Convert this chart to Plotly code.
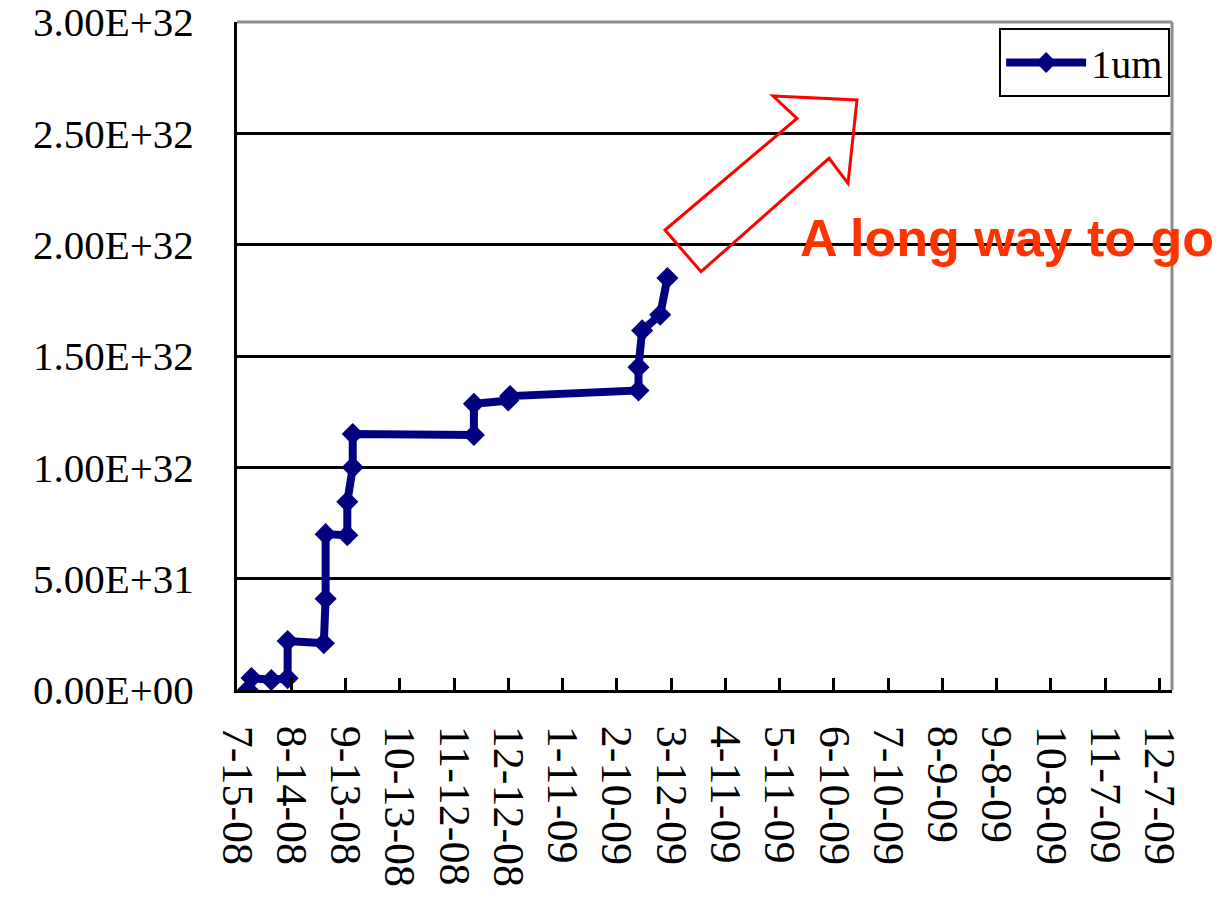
import plotly.graph_objects as go

# Cumulative luminosity, dated measurements
dates = [
    "2008-07-21", "2008-07-23", "2008-08-03", "2008-08-12", "2008-08-12",
    "2008-09-01", "2008-09-02", "2008-09-02", "2008-09-14", "2008-09-14",
    "2008-09-17", "2008-09-17", "2008-11-23", "2008-11-23", "2008-12-12",
    "2008-12-13", "2009-02-22", "2009-02-22", "2009-02-24", "2009-03-06",
    "2009-03-10",
]
lum = [
    0.0, 5.4e30, 4.5e30, 5.3e30, 2.2e31,
    2.1e31, 4.1e31, 7.0e31, 6.95e31, 8.45e31,
    1.0e32, 1.15e32, 1.145e32, 1.285e32, 1.30e32,
    1.32e32, 1.345e32, 1.45e32, 1.615e32, 1.685e32,
    1.85e32,
]

y_ticks = [0, 5e31, 1e32, 1.5e32, 2e32, 2.5e32, 3e32]
y_tick_text = ["0.00E+00", "5.00E+31", "1.00E+32", "1.50E+32",
               "2.00E+32", "2.50E+32", "3.00E+32"]

x_start = "2008-07-15"
x_end = "2009-12-14"
x_step_days = 30

NAVY = "#000080"
SERIF = "Liberation Serif"

fig = go.Figure()
fig.add_trace(go.Scatter(
    x=dates, y=lum, mode="lines+markers", name="1um",
    line=dict(color=NAVY, width=8),
    marker=dict(symbol="diamond", size=17, color=NAVY),
))

fig.update_layout(
    width=1224, height=914, autosize=False,
    margin=dict(l=237, r=52, t=22, b=224),
    paper_bgcolor="white", plot_bgcolor="white",
    font=dict(family=SERIF, color="black", size=44),
    showlegend=True,
    legend=dict(
        x=0.998, xanchor="right", y=0.991, yanchor="top",
        bgcolor="white", bordercolor="black", borderwidth=2,
        itemwidth=80,
        font=dict(family=SERIF, size=40, color="black"),
    ),
    xaxis=dict(
        type="date", range=[x_start, x_end],
        tick0=x_start, dtick=x_step_days * 86400000,
        tickformat="%-m-%-d-%y", tickangle=90,
        ticks="inside", ticklen=12, tickwidth=2.5, tickcolor="black",
        showgrid=False, showline=True, linecolor="black", linewidth=3,
        ticklabelstandoff=24, automargin=False, ticklabeloverflow="allow",
        tickfont=dict(family=SERIF, size=44, color="black"),
        zeroline=False,
    ),
    yaxis=dict(
        range=[0, 3e32], tickvals=y_ticks, ticktext=y_tick_text,
        ticks="", showgrid=True, gridcolor="black", gridwidth=2.5,
        showline=True, linecolor="black", linewidth=3,
        ticklabelstandoff=32, automargin=False, ticklabeloverflow="allow",
        tickfont=dict(family=SERIF, size=41, color="black"),
        zeroline=False,
    ),
)

# grey frame on the top and right of the plot area
fig.add_shape(type="line", xref="paper", yref="paper", x0=0, x1=1, y0=1, y1=1,
              line=dict(color="#8c8c8c", width=3))
fig.add_shape(type="line", xref="paper", yref="paper", x0=1, x1=1, y0=0, y1=1,
              line=dict(color="#8c8c8c", width=3))

# outlined block arrow pointing up and to the right
arrow_path = ("M0.4578,0.6886 L0.4963,0.6262 L0.6332,0.7960 L0.6535,0.7585 "
              "L0.6631,0.8832 L0.5733,0.8892 L0.5989,0.8558 Z")
fig.add_shape(type="path", xref="paper", yref="paper", path=arrow_path,
              line=dict(color="#ff0000", width=3), fillcolor="rgba(0,0,0,0)")

fig.add_annotation(
    text="<b>A long way to go</b>", xref="paper", yref="paper",
    x=0.600, y=0.6766, xanchor="left", yanchor="middle", showarrow=False,
    font=dict(family="Liberation Sans", size=52, color="#ff3300"),
)

fig.write_html("out.html")
